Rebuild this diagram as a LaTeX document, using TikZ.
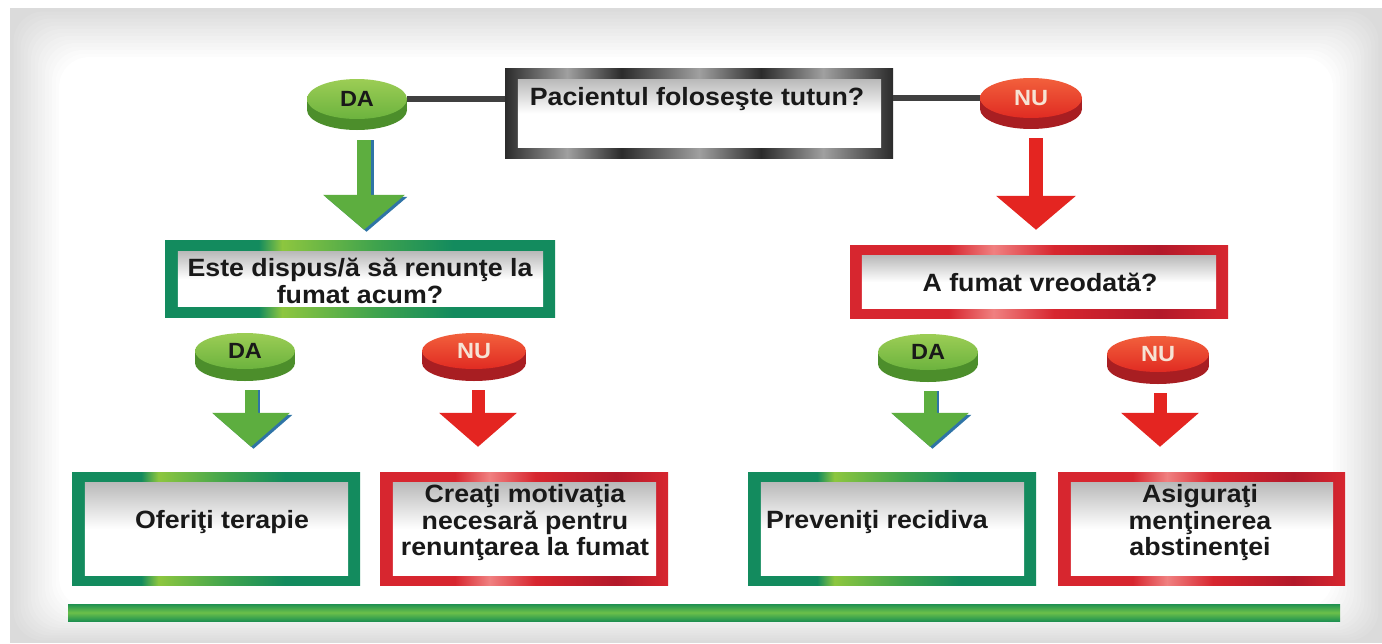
\documentclass[tikz,border=0pt]{standalone}
\usepackage{fontspec}
\setmainfont{Liberation Sans}[FakeStretch=1.07]
\usetikzlibrary{arrows.meta,shapes.geometric}
\definecolor{gteal}{HTML}{138B5E}
\definecolor{glime}{HTML}{8DC63F}
\definecolor{gmid}{HTML}{3FA34D}
\definecolor{rbase}{HTML}{D7262F}
\definecolor{rlight}{HTML}{F08080}
\definecolor{rdark}{HTML}{B3192A}
\definecolor{kdark}{HTML}{2B2B2B}
\definecolor{klight}{HTML}{A0A0A0}
\definecolor{discgA}{HTML}{9CCD55}
\definecolor{discgB}{HTML}{6CB33E}
\definecolor{discgS}{HTML}{4C8E2B}
\definecolor{discrA}{HTML}{F2603C}
\definecolor{discrB}{HTML}{E02B22}
\definecolor{discrS}{HTML}{A81E22}
\definecolor{arrg}{HTML}{5DAE3F}
\definecolor{arrgS}{HTML}{2F74A6}
\definecolor{arrr}{HTML}{E42521}
\definecolor{nutext}{HTML}{F6E3D4}
\definecolor{barA}{HTML}{1F9150}
\definecolor{barB}{HTML}{6CC04A}
\pgfdeclarehorizontalshading{greenframe}{100bp}{color(0bp)=(gteal); color(25bp)=(gteal); color(37bp)=(gteal); color(40bp)=(glime); color(52bp)=(gmid); color(62bp)=(gteal); color(75bp)=(gteal); color(100bp)=(gteal)}
\pgfdeclarehorizontalshading{redframe}{100bp}{color(0bp)=(rbase); color(25bp)=(rbase); color(38bp)=(rbase); color(44bp)=(rlight); color(52bp)=(rbase); color(66bp)=(rdark); color(75bp)=(rbase); color(100bp)=(rbase)}
\pgfdeclarehorizontalshading{greyframe}{100bp}{color(0bp)=(kdark); color(25bp)=(kdark); color(33bp)=(klight); color(40bp)=(kdark); color(50bp)=(klight); color(58bp)=(kdark); color(66bp)=(klight); color(75bp)=(kdark); color(100bp)=(kdark)}
\newcommand{\discbase}[6]{%
  \fill[#6] (#1,#2+#5) ellipse [x radius=#3, y radius=#4];
  \fill[#6] (#1-#3,#2) rectangle (#1+#3,#2+#5);}
\tikzset{
  gframe/.style={rectangle, inner sep=0pt, shading=greenframe},
  rframe/.style={rectangle, inner sep=0pt, shading=redframe},
  kframe/.style={rectangle, inner sep=0pt, shading=greyframe},
  innerfill/.style={top color=black!27, bottom color=white, middle color=white},
  txt/.style={font=\bfseries\fontsize{25}{26.5}\selectfont, text=black!90, align=center, inner sep=0pt},
  gdisc/.style={ellipse, inner sep=0pt, top color=discgA, bottom color=discgB, font=\bfseries\fontsize{22}{24}\selectfont, text=black!90},
  rdisc/.style={ellipse, inner sep=0pt, top color=discrA, bottom color=discrB, font=\bfseries\fontsize{22}{24}\selectfont, text=nutext},
  conn/.style={draw=black!75, line width=6pt},
  garr/.style={draw=arrg, line width=#1},
  garrS/.style={draw=arrgS, line width=#1},
  rarr/.style={draw=arrr, line width=#1},
}
\begin{document}
\begin{tikzpicture}[x=1pt,y=-1pt]
\useasboundingbox (0,0) rectangle (1382,643);
\fill[white] (0,0) rectangle (1382,643);
% background panel: soft grey edges fading to white
\fill[black!14] (10,8) rectangle (1382,643);
\foreach \i in {1,...,14} {
  \pgfmathsetmacro\g{14-\i}
  \fill[black!\g, rounded corners=30pt] (10+\i*3.5,8+\i*3.5) rectangle (1382-\i*3.5,643-\i*2.5);
}

% frames
\node[kframe, minimum width=388pt, minimum height=90pt] (top) at (699,113) {};
\shade[innerfill] ([shift={(13,12)}]top.north west) rectangle ([shift={(-12,-11)}]top.south east);
\node[gframe, minimum width=390pt, minimum height=77pt] (b2) at (360,278.5) {};
\shade[innerfill] ([shift={(13,12)}]b2.north west) rectangle ([shift={(-12,-11)}]b2.south east);
\node[rframe, minimum width=378pt, minimum height=73pt] (b3) at (1039,281.5) {};
\shade[innerfill] ([shift={(12,11)}]b3.north west) rectangle ([shift={(-12,-10)}]b3.south east);
\node[gframe, minimum width=288pt, minimum height=113pt] (b4) at (216,528.5) {};
\shade[innerfill] ([shift={(13,11)}]b4.north west) rectangle ([shift={(-12,-10)}]b4.south east);
\node[rframe, minimum width=288pt, minimum height=113pt] (b5) at (524,528.5) {};
\shade[innerfill] ([shift={(13,11)}]b5.north west) rectangle ([shift={(-12,-10)}]b5.south east);
\node[gframe, minimum width=288pt, minimum height=113pt] (b6) at (892,528.5) {};
\shade[innerfill] ([shift={(13,11)}]b6.north west) rectangle ([shift={(-12,-10)}]b6.south east);
\node[rframe, minimum width=287pt, minimum height=113pt] (b7) at (1201.5,528.5) {};
\shade[innerfill] ([shift={(13,11)}]b7.north west) rectangle ([shift={(-12,-10)}]b7.south east);

% texts
\node[txt] (t1) at (697,99) {Pacientul foloseşte tutun?};
\node[txt] (t2) at (360,281) {Este dispus/ă să renunţe la\\fumat acum?};
\node[txt] (t3) at (1040,282) {A fumat vreodată?};
\node[txt] (t4) at (222,522) {Oferiţi terapie};
\node[txt] (t5) at (525,523) {Creaţi motivaţia\\necesară pentru\\renunţarea la fumat};
\node[txt] (t6) at (877,522) {Preveniţi recidiva};
\node[txt] (t7) at (1200,523) {Asiguraţi\\menţinerea\\abstinenţei};

% discs
\discbase{357}{99}{50}{20}{11}{discgS}
\node[gdisc, minimum width=100pt, minimum height=40pt] (d1) at (357,99) {DA};
\discbase{1031}{98}{51}{20}{11}{discrS}
\node[rdisc, minimum width=102pt, minimum height=40pt] (n1) at (1031,98) {NU};
\discbase{245}{351}{50}{18}{12}{discgS}
\node[gdisc, minimum width=100pt, minimum height=36pt] (d2) at (245,351) {DA};
\discbase{474}{351}{52}{18}{12}{discrS}
\node[rdisc, minimum width=104pt, minimum height=36pt] (n2) at (474,351) {NU};
\discbase{928}{352}{50}{18}{12}{discgS}
\node[gdisc, minimum width=100pt, minimum height=36pt] (d3) at (928,352) {DA};
\discbase{1158}{354}{51}{18}{12}{discrS}
\node[rdisc, minimum width=102pt, minimum height=36pt] (n3) at (1158,354) {NU};

% connectors top
\draw[conn] (d1.east) -- (d1.east -| top.west);
\draw[conn] (n1.west -| top.east) -- (n1.west);

% arrows
\draw[garrS=14pt, -{Triangle[width=80pt,length=35pt]}, shorten <=21pt, shorten >=8pt] ([xshift=9.5pt]d1.south) -- ([xshift=9.5pt]d1.south |- b2.north);
\draw[garr=14pt, -{Triangle[width=80pt,length=35pt]}, shorten <=21pt, shorten >=10pt] ([xshift=7pt]d1.south) -- ([xshift=7pt]d1.south |- b2.north);
\draw[rarr=14pt, -{Triangle[width=78pt,length=34pt]}, shorten <=20pt, shorten >=15pt] ([xshift=5pt]n1.south) -- ([xshift=5pt]n1.south |- b3.north);

\draw[garrS=13pt, -{Triangle[width=76pt,length=34pt]}, shorten <=21pt, shorten >=23pt] ([xshift=8.5pt]d2.south) -- ([xshift=8.5pt]d2.south |- b4.north);
\draw[garr=13pt, -{Triangle[width=76pt,length=34pt]}, shorten <=21pt, shorten >=25pt] ([xshift=6pt]d2.south) -- ([xshift=6pt]d2.south |- b4.north);
\draw[rarr=13pt, -{Triangle[width=76pt,length=34pt]}, shorten <=21pt, shorten >=25pt] ([xshift=4pt]n2.south) -- ([xshift=4pt]n2.south |- b5.north);
\draw[garrS=13pt, -{Triangle[width=76pt,length=34pt]}, shorten <=21pt, shorten >=23pt] ([xshift=4.5pt]d3.south) -- ([xshift=4.5pt]d3.south |- b6.north);
\draw[garr=13pt, -{Triangle[width=76pt,length=34pt]}, shorten <=21pt, shorten >=25pt] ([xshift=2pt]d3.south) -- ([xshift=2pt]d3.south |- b6.north);
\draw[rarr=13pt, -{Triangle[width=76pt,length=34pt]}, shorten <=21pt, shorten >=25pt] ([xshift=2pt]n3.south) -- ([xshift=2pt]n3.south |- b7.north);

% bottom bar
\shade[top color=barA, bottom color=barA, middle color=barB] (68,604) rectangle (1340,621);
\end{tikzpicture}
\end{document}
